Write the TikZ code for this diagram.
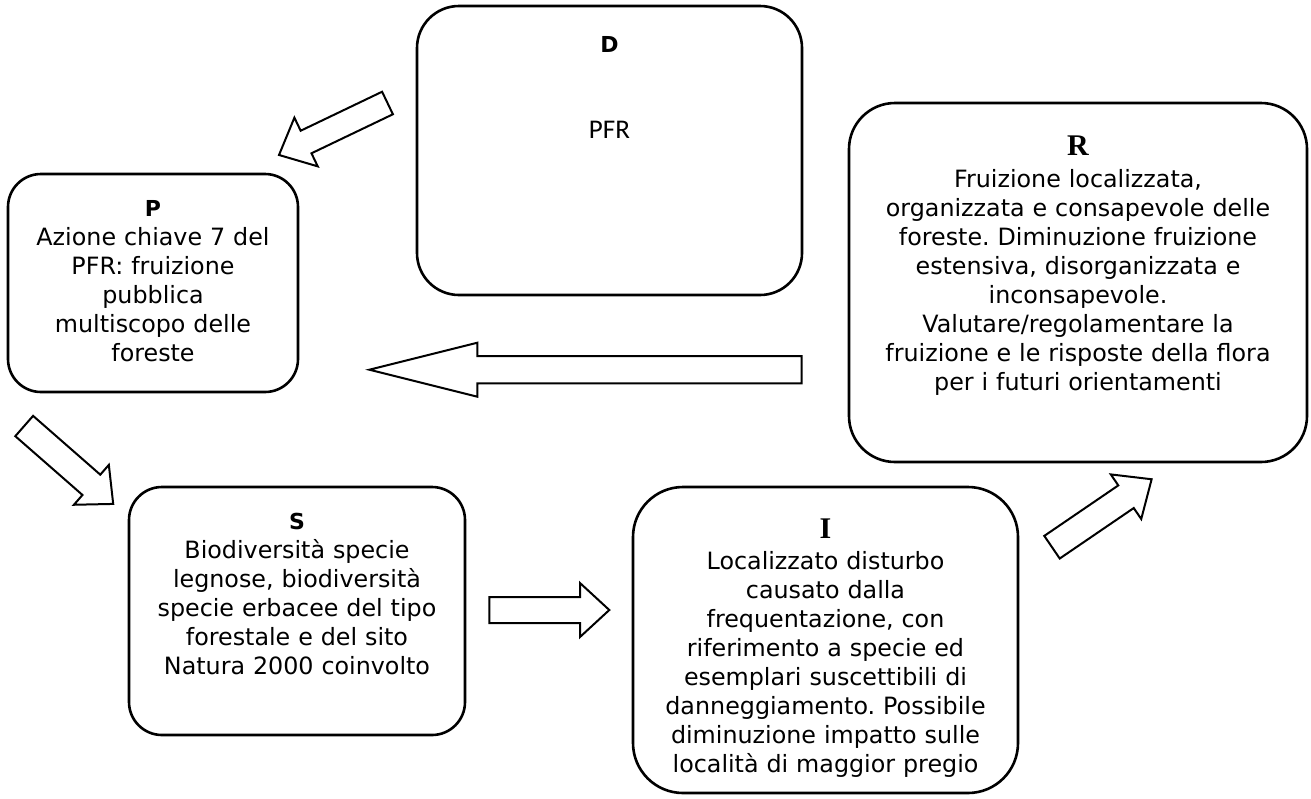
\documentclass[tikz,border=0pt]{standalone}
\usepackage{fontspec}
\setmainfont{DejaVu Sans}
\newfontfamily\headfont{Liberation Serif}
\newfontfamily\pfrfont{Carlito}
\frenchspacing
% hollow block arrow: tail coordinate, angle, length, shaft half-width, head half-width, head length
\newcommand\blockarrow[6]{%
  \draw[blockarr, shift={(#1)}, rotate=#2]
    (0,{-#4}) -- ({#3-#6},{-#4}) -- ({#3-#6},{-#5}) -- (#3,0)
    -- ({#3-#6},{#5}) -- ({#3-#6},{#4}) -- (0,{#4}) -- cycle;}
\begin{document}
\begin{tikzpicture}[x=0.5pt,y=-0.5pt,
  card/.style={draw=black, line width=1.3pt},
  blockarr/.style={draw=black, fill=white, line width=1pt, line join=miter},
  txt/.style={inner sep=0pt, anchor=base, text width=240pt, align=center,
    font=\fontsize{11.9}{14.5}\selectfont},
]
\useasboundingbox (0,0) rectangle (1311,798);
\fill[white] (0,0) rectangle (1311,798);

% boxes
\draw[card, rounded corners=21pt]   (417,6)   rectangle (802,295);
\draw[card, rounded corners=16.5pt] (8,174)   rectangle (298,392);
\draw[card, rounded corners=23pt]   (849,103) rectangle (1307,462);
\draw[card, rounded corners=16.5pt] (129,487) rectangle (465,735);
\draw[card, rounded corners=25pt]   (633,487) rectangle (1018,793);

% texts
\node[txt] (dtext) at (609.5,52)
  {{\fontsize{11}{14.5}\selectfont\bfseries D}\\[28.9pt]{\pfrfont\fontsize{13.5}{14.5}\selectfont PFR}};

\node[txt] (ptext) at (153,216.7)
  {{\fontsize{11}{14.5}\selectfont\bfseries P}\\
   Azione chiave 7 del\\
   PFR: fruizione\\
   pubblica\\
   multiscopo delle\\
   foreste};

\node[txt] (rtext) at (1078,155)
  {{\headfont\fontsize{15}{14.5}\selectfont\bfseries R}\\[1.5pt]
   Fruizione localizzata,\\
   organizzata e consapevole delle\\
   foreste. Diminuzione fruizione\\
   estensiva, disorganizzata e\\
   inconsapevole.\\
   Valutare/regolamentare la\\
   fruizione e le risposte della flora\\
   per i futuri orientamenti};

\node[txt] (stext) at (297,529)
  {{\fontsize{11}{14.5}\selectfont\bfseries S}\\
   Biodiversità specie\\
   legnose, biodiversità\\
   specie erbacee del tipo\\
   forestale e del sito\\
   Natura 2000 coinvolto};

% the last line of this box is cut off at the bottom of its text area
\begin{scope}
  \clip (633,487) rectangle (1018,776);
  \node[txt] (itext) at (825.5,538)
    {{\headfont\fontsize{15}{14.5}\selectfont\bfseries I}\\[1pt]
     Localizzato disturbo\\
     causato dalla\\
     frequentazione, con\\
     riferimento a specie ed\\
     esemplari suscettibili di\\
     danneggiamento. Possibile\\
     diminuzione impatto sulle\\
     località di maggior pregio};
\end{scope}

% block arrows
\coordinate (dpTail) at (387.5,103);
\coordinate (rpTail) at (801.7,369.7);
\coordinate (psTail) at (24.2,426);
\coordinate (siTail) at (489.3,610);
\coordinate (irTail) at (1052,547.2);
\blockarrow{dpTail}{205.6}{120.3}{12.5}{27}{30}
\blockarrow{rpTail}{180}{432.4}{13.7}{27}{108}
\blockarrow{psTail}{-41.2}{118.3}{13.5}{26.5}{29}
\blockarrow{siTail}{0}{120}{13}{27}{29.3}
\blockarrow{irTail}{34.3}{120.6}{13.7}{27}{31}
\end{tikzpicture}
\end{document}
